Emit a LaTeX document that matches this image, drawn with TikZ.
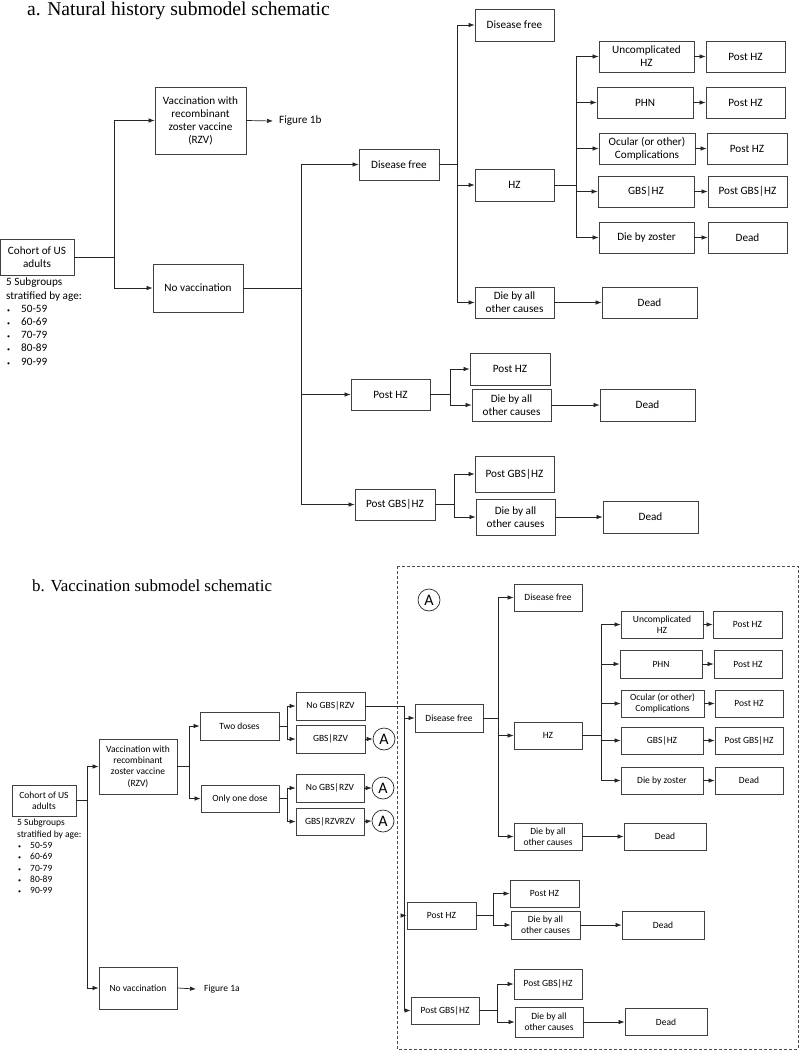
\documentclass[tikz,border=0pt]{standalone}
\usepackage{fontspec}
\setmainfont{Liberation Serif}
\newfontfamily\boxfont{Carlito}
\usetikzlibrary{shapes,calc,arrows.meta}
\newcommand{\agebul}[1]{\makebox[#1][l]{\hspace{1pt}{\fontsize{6}{6}\selectfont\textbullet}}}

\begin{document}
\begin{tikzpicture}[x=1pt,y=-1pt]
	\tikzset{box/.style={draw=black!75,line width=0.8pt,align=center,inner sep=1pt,font=\boxfont\fontsize{11.2}{13}\selectfont},
		sbox/.style={box,font=\boxfont\fontsize{9.5}{11.3}\selectfont},
		sz/.style 2 args={minimum width=#1,minimum height=#2},
		arr/.style={->,>={Latex[length=6pt,width=4.5pt]},line width=0.7pt,black!85},
		circA/.style={circle,draw=black!85,line width=0.7pt,minimum size=22,inner sep=0pt,font=\boxfont\fontsize{16}{16}\selectfont}}
	\useasboundingbox (0,0) rectangle (800,1051);
	
	% a. natural history
	\node (titleA) at (27,16) [anchor=base west,inner sep=0pt,font=\fontsize{19.6}{19.6}\selectfont] {a. Natural history submodel schematic};
	\node (cohortA) at (37,257) [box,sz={74}{36}] {Cohort of US\\adults};
	\node (agesA) at (6,278) [anchor=north west,align=left,inner sep=0pt,font=\boxfont\fontsize{11.2}{13.2}\selectfont]
		{5 Subgroups\\stratified by age:\\\agebul{15pt}50-59\\\agebul{15pt}60-69\\\agebul{15pt}70-79\\\agebul{15pt}80-89\\\agebul{15pt}90-99};
	\node (vaccA) at (200.5,120.5) [box,sz={91}{67}] {Vaccination with\\recombinant\\zoster vaccine\\(RZV)};
	\node (fig1b) at (273,121) [anchor=west,inner sep=0pt,inner xsep=6pt,font=\boxfont\fontsize{11.2}{13}\selectfont] {Figure 1b};
	\node (novaccA) at (198,288) [box,sz={90}{48}] {No vaccination};
	\node (dfA) at (399,164.5) [box,sz={80}{31}] {Disease free};
	\node (dftopA) at (514.5,25) [box,sz={79}{32}] {Disease free};
	\node (hzA) at (514.5,185) [box,sz={79}{32}] {HZ};
	\node (dieA) at (514.5,302.5) [box,sz={79}{31}] {Die by all\\other causes};
	\node (deadA) at (649.5,302.5) [box,sz={95}{31}] {Dead};
	\node (uncA) at (646.5,56.5) [box,sz={95}{31}] {Uncomplicated\\HZ};
	\node (post1A) at (745.5,56.5) [box,sz={79}{31}] {Post HZ};
	\node (phnA) at (645,102.5) [box,sz={96}{31}] {PHN};
	\node (post2A) at (745.5,102.5) [box,sz={79}{31}] {Post HZ};
	\node (ocuA) at (647,148.5) [box,sz={96}{31}] {Ocular (or other)\\Complications};
	\node (post3A) at (747,148.5) [box,sz={80}{31}] {Post HZ};
	\node (gbsA) at (646,191.5) [box,sz={96}{31}] {GBS|HZ};
	\node (postgbsA) at (747.5,191.5) [box,sz={79}{31}] {Post GBS|HZ};
	\node (dzA) at (646.5,237.5) [box,sz={95}{31}] {Die by zoster};
	\node (dead2A) at (747.5,237.5) [box,sz={79}{31}] {Dead};
	\node (phzA) at (390.5,394.5) [box,sz={79}{31}] {Post HZ};
	\node (phz1A) at (510,369) [box,sz={80}{32}] {Post HZ};
	\node (die2A) at (511.5,405) [box,sz={79}{32}] {Die by all\\other causes};
	\node (dead3A) at (647.5,405) [box,sz={95}{32}] {Dead};
	\node (pgbsA) at (395,504.5) [box,sz={80}{31}] {Post GBS|HZ};
	\node (pgbs1A) at (514.5,474) [box,sz={79}{36}] {Post GBS|HZ};
	\node (die3A) at (515.5,517) [box,sz={79}{36}] {Die by all\\other causes};
	\node (dead4A) at (650.5,517) [box,sz={95}{32}] {Dead};
	
	\foreach \t in {vaccA,novaccA} \draw[arr] (cohortA.east) -- ++(40,0) |- (\t.west);
	\draw[arr] (vaccA.east) -- (fig1b.west);
	\foreach \t in {dfA,phzA,pgbsA} \draw[arr] (novaccA.east) -- ++(58,0) |- (\t.west);
	\foreach \t in {dftopA,hzA,dieA} \draw[arr] (dfA.east) -- ++(18,0) |- (\t.west);
	\foreach \t in {uncA,phnA,ocuA,gbsA,dzA} \draw[arr] (hzA.east) -- ++(22,0) |- (\t.west);
	\foreach \t in {phz1A,die2A} \draw[arr] (phzA.east) -- ++(20,0) |- (\t.west);
	\foreach \t in {pgbs1A,die3A} \draw[arr] (pgbsA.east) -- ++(19,0) |- (\t.west);
	\foreach \s/\t in {uncA/post1A,phnA/post2A,ocuA/post3A,gbsA/postgbsA,dzA/dead2A,dieA/deadA,die2A/dead3A,die3A/dead4A}
	\draw[arr] (\s.east) -- (\s.east -| \t.west);
	
	% b. vaccination
	\node (titleB) at (32,591) [anchor=base west,inner sep=0pt,font=\fontsize{16.9}{16.9}\selectfont] {b. Vaccination submodel schematic};
	\draw[densely dashed,black!70,line width=0.6pt] (397,566) rectangle (798,1049);
	\node (cohortB) at (44,800.5) [sbox,sz={64}{31}] {Cohort of US\\adults};
	\node (agesB) at (17,819) [anchor=north west,align=left,inner sep=0pt,font=\boxfont\fontsize{9.5}{11.3}\selectfont]
		{5 Subgroups\\stratified by age:\\\agebul{13pt}50-59\\\agebul{13pt}60-69\\\agebul{13pt}70-79\\\agebul{13pt}80-89\\\agebul{13pt}90-99};
	\node (vaccB) at (138,766.5) [sbox,sz={78}{55}] {Vaccination with\\recombinant\\zoster vaccine\\(RZV)};
	\node (novaccB) at (138,988) [sbox,sz={78}{42}] {No vaccination};
	\node (fig1a) at (196,989) [anchor=west,inner sep=0pt,inner xsep=8pt,font=\boxfont\fontsize{9.5}{11}\selectfont] {Figure 1a};
	\node (twoB) at (239.5,726) [sbox,sz={79}{28}] {Two doses};
	\node (oneB) at (240,798.5) [sbox,sz={78}{27}] {Only one dose};
	\node (nogbs1B) at (330.5,706) [sbox,sz={69}{28}] {No GBS|RZV};
	\node (gbs1B) at (330.5,739) [sbox,sz={69}{28}] {GBS|RZV};
	\node (nogbs2B) at (330,788) [sbox,sz={68}{28}] {No GBS|RZV};
	\node (gbs2B) at (330,821.5) [sbox,sz={68}{27}] {GBS|RZVRZV};
	\node (a1) at (384,739) [circA] {A};
	\node (a2) at (383,788) [circA] {A};
	\node (a3) at (383,821) [circA] {A};
	\node (a0) at (429,600) [circA] {A};
	\node (dfB) at (449,718) [sbox,sz={68}{28}] {Disease free};
	\node (dftopB) at (548,597.5) [sbox,sz={68}{27}] {Disease free};
	\node (hzB) at (548,735.5) [sbox,sz={68}{27}] {HZ};
	\node (uncB) at (662,624.5) [sbox,sz={82}{27}] {Uncomplicated\\HZ};
	\node (post1B) at (747.5,624.5) [sbox,sz={69}{27}] {Post HZ};
	\node (phnB) at (661,664) [sbox,sz={82}{28}] {PHN};
	\node (post2B) at (748,664) [sbox,sz={68}{28}] {Post HZ};
	\node (ocuB) at (662.5,703.5) [sbox,sz={83}{27}] {Ocular (or other)\\Complications};
	\node (post3B) at (749,703.5) [sbox,sz={68}{27}] {Post HZ};
	\node (gbsB) at (662,740.5) [sbox,sz={82}{27}] {GBS|HZ};
	\node (postgbsB) at (749,740.5) [sbox,sz={68}{27}] {Post GBS|HZ};
	\node (dzB) at (662,780.5) [sbox,sz={82}{27}] {Die by zoster};
	\node (dead2B) at (749,780.5) [sbox,sz={68}{27}] {Dead};
	\node (dieB) at (548,836.5) [sbox,sz={68}{27}] {Die by all\\other causes};
	\node (deadB) at (665,836.5) [sbox,sz={82}{27}] {Dead};
	\node (phzB) at (441.5,915.5) [sbox,sz={69}{27}] {Post HZ};
	\node (phz1B) at (544.5,893.5) [sbox,sz={69}{27}] {Post HZ};
	\node (die2B) at (545.5,925) [sbox,sz={69}{28}] {Die by all\\other causes};
	\node (dead3B) at (663,925) [sbox,sz={82}{28}] {Dead};
	\node (pgbsB) at (445,1010.5) [sbox,sz={68}{27}] {Post GBS|HZ};
	\node (pgbs1B) at (548,984) [sbox,sz={68}{30}] {Post GBS|HZ};
	\node (die3B) at (549,1022) [sbox,sz={68}{30}] {Die by all\\other causes};
	\node (dead4B) at (666,1022) [sbox,sz={82}{27}] {Dead};
	
	\foreach \t in {vaccB,novaccB} \draw[arr] (cohortB.east) -- ++(11,0) |- (\t.west);
	\draw[arr] (novaccB.east) -- (fig1a.west);
	\foreach \t in {twoB,oneB} \draw[arr] (vaccB.east) -- ++(12,0) |- (\t.west);
	\foreach \t in {nogbs1B,gbs1B} \draw[arr] (twoB.east) -- ++(8,0) |- (\t.west);
	\foreach \t in {nogbs2B,gbs2B} \draw[arr] (oneB.east) -- ++(8,0) |- (\t.west);
	\foreach \s/\t in {gbs1B/a1,nogbs2B/a2,gbs2B/a3} \draw[arr] (\s.east) -- (\t.west);
	\foreach \t in {dfB,phzB,pgbsB} \draw[arr] (nogbs1B.east) -- ++(39,0) |- (\t.west);
	\foreach \t in {dftopB,hzB,dieB} \draw[arr] (dfB.east) -- ++(15,0) |- (\t.west);
	\foreach \t in {uncB,phnB,ocuB,gbsB,dzB} \draw[arr] (hzB.east) -- ++(19,0) |- (\t.west);
	\foreach \t in {phz1B,die2B} \draw[arr] (phzB.east) -- ++(17,0) |- (\t.west);
	\foreach \t in {pgbs1B,die3B} \draw[arr] (pgbsB.east) -- ++(18,0) |- (\t.west);
	\foreach \s/\t in {uncB/post1B,phnB/post2B,ocuB/post3B,gbsB/postgbsB,dzB/dead2B,dieB/deadB,die2B/dead3B,die3B/dead4B}
	\draw[arr] (\s.east) -- (\s.east -| \t.west);
\end{tikzpicture}
\end{document}
